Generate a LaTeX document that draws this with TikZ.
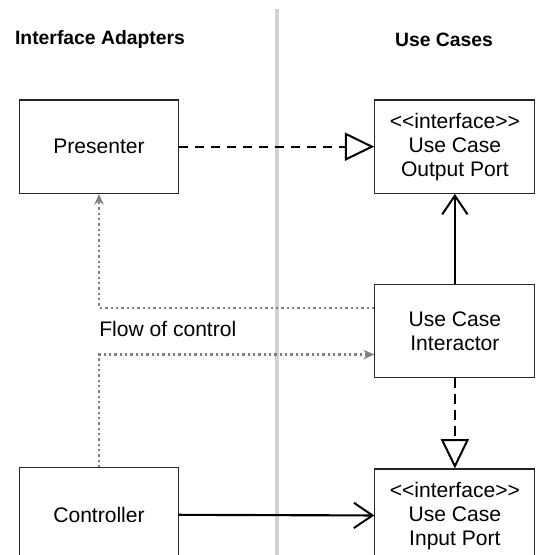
\documentclass[tikz,border=0pt]{standalone}
\usepackage{fontspec}
\setmainfont{Liberation Sans}
\usepackage{tikz}
\usetikzlibrary{arrows.meta, positioning, calc}
\tikzset{
  % Box styles
  box/.style={rectangle, minimum width=119pt, minimum height=70pt, text centered, align=center, draw=black!85, line width=0.9pt, fill=white, font=\fontsize{15.8}{18}\selectfont},
  title/.style={font=\fontsize{14.5}{17}\selectfont\bfseries},
  txt/.style={inner sep=0pt, font=\fontsize{15.8}{18}\selectfont},
  % Connector styles
  realize/.style={-{Triangle[open, length=22pt, width=21pt, line width=1.5pt]}, line width=1.6pt, dash pattern=on 7pt off 5pt},
  assoc/.style={-{Straight Barb[length=14pt, width=19pt, line width=1.5pt]}, line width=1.6pt},
  flow/.style={-{Stealth[length=8pt, width=7pt, inset=2.5pt]}, draw=black!50, line width=1.9pt, dash pattern=on 1.8pt off 2.2pt},
  lane/.style={draw=black!18, line width=3pt},
}
\begin{document}
\begin{tikzpicture}
    \useasboundingbox (0,0) rectangle (401.25pt,-416.25pt);

    % Divider between the two layers
    \draw[lane] (207.4pt,-7pt) -- (207.4pt,-416.25pt);

    % Layer titles
    \node[title] (ia) at (75pt,-30pt) {Interface Adapters};
    \node[title] (uc) at (333pt,-30pt) {Use Cases};

    % Interface adapters
    \node[box] (presenter) at (74.25pt,-110pt) {Presenter};
    \node[box, below=205pt of presenter] (controller) {Controller};

    % Use cases
    \node[box, minimum width=120pt, right=146.5pt of presenter] (outport) {{<}{<}interface{>}{>}\\Use Case\\Output Port};
    \node[box, minimum width=120pt, below=67.5pt of outport] (interactor) {Use Case\\Interactor};
    \node[box, minimum width=120pt, below=67.5pt of interactor] (inport) {{<}{<}interface{>}{>}\\Use Case\\Input Port};

    % Arrows
    \draw[realize] (presenter) -- (outport);
    \draw[assoc] (interactor) -- (outport);
    \draw[realize] (interactor) -- (inport);
    \draw[assoc] (controller) -- (inport);

    % Flow of control
    \draw[flow] ($(interactor.west)+(0,17.5pt)$) -| (presenter.south);
    \draw[flow] (controller.north) |- ($(interactor.west)+(0,-17.5pt)$);
    \node[txt, anchor=west] (flowlabel) at ($(presenter.south |- interactor.west)+(0,1.5pt)$) {Flow of control};
  \end{tikzpicture}
\end{document}
